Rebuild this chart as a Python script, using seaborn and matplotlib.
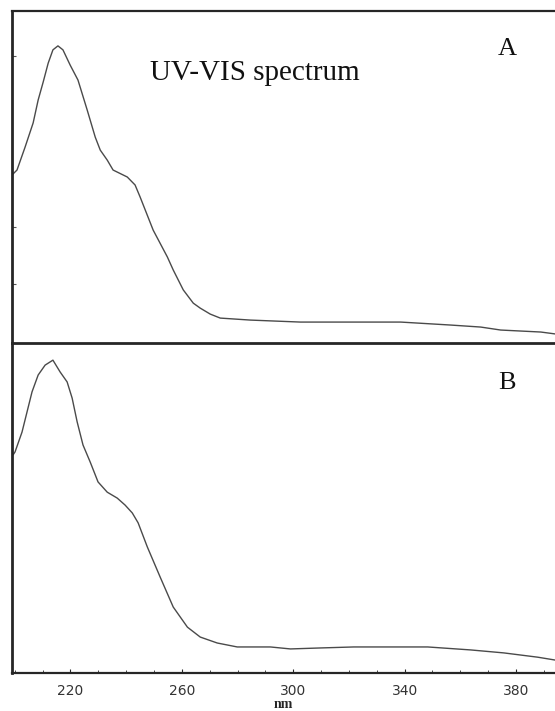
import numpy as np
import pandas as pd
import seaborn as sns
from matplotlib import pyplot as plt
from matplotlib.ticker import MultipleLocator

# spectrum A (top panel)
wl_a = [199.0, 200.8, 203.7, 206.6, 208.4, 210.2, 212.0, 213.7, 215.5, 217.3,
        219.9, 222.7, 226.0, 228.9, 230.7, 233.2, 235.3, 240.4, 243.2, 245.0,
        249.7, 254.8, 256.9, 260.5, 264.1, 266.6, 270.2, 273.8, 284.6, 302.6,
        320.6, 338.6, 356.6, 367.3, 374.5, 388.9, 394.3]
abs_a = [0.506, 0.521, 0.590, 0.663, 0.732, 0.786, 0.843, 0.883, 0.895, 0.883,
         0.837, 0.792, 0.702, 0.620, 0.581, 0.551, 0.521, 0.500, 0.476, 0.440,
         0.340, 0.259, 0.220, 0.160, 0.120, 0.105, 0.087, 0.075, 0.069, 0.063,
         0.063, 0.063, 0.054, 0.048, 0.039, 0.033, 0.027]

# spectrum B (bottom panel)
wl_b = [199.4, 200.1, 202.6, 204.4, 206.2, 208.4, 210.9, 213.7, 216.3, 218.8,
        220.6, 222.4, 224.5, 227.1, 229.9, 233.2, 236.8, 239.6, 242.2, 244.3,
        247.6, 252.2, 256.9, 262.0, 266.6, 272.7, 279.9, 291.8, 299.0, 309.8,
        321.7, 348.3, 363.7, 375.6, 387.8, 394.3]
abs_b = [0.661, 0.670, 0.730, 0.791, 0.852, 0.903, 0.933, 0.948, 0.912, 0.882,
         0.833, 0.761, 0.691, 0.639, 0.579, 0.548, 0.530, 0.509, 0.485, 0.455,
         0.382, 0.291, 0.200, 0.139, 0.109, 0.091, 0.079, 0.079, 0.073, 0.076,
         0.079, 0.079, 0.070, 0.061, 0.048, 0.039]

xticks = [220, 260, 300, 340, 380]
yticks_a = [0.178, 0.350, 0.864]

sns.set_style('ticks')

fig = plt.figure(figsize=(5.55, 7.11), dpi=100)
ax_a = fig.add_axes([0.0216, 0.5176, 0.9784, 0.4669])
ax_b = fig.add_axes([0.0216, 0.0534, 0.9784, 0.4642], sharex=ax_a)
# keep the lower panel from painting over the shared divider line
ax_b.patch.set_visible(False)

df_a = pd.DataFrame({'nm': wl_a, 'abs': abs_a})
df_b = pd.DataFrame({'nm': wl_b, 'abs': abs_b})
sns.lineplot(data=df_a, x='nm', y='abs', ax=ax_a, color='#4a4a4a', lw=1.0)
sns.lineplot(data=df_b, x='nm', y='abs', ax=ax_b, color='#4a4a4a', lw=1.0)

for ax in (ax_a, ax_b):
    ax.set_xlim(199, 394)
    ax.set_ylim(0, 1.0)
    ax.set_xlabel('')
    ax.set_ylabel('')
    ax.spines['right'].set_visible(False)
    ax.spines['left'].set_linewidth(2.0)
    ax.spines['bottom'].set_linewidth(1.6)
    ax.spines['top'].set_linewidth(1.6)

ax_b.spines['top'].set_visible(False)
ax_a.spines['bottom'].set_linewidth(2.0)

# top panel: small inward ticks on the left, no labels
ax_a.set_yticks(yticks_a)
ax_a.tick_params(axis='y', direction='in', length=3, width=0.8, labelleft=False,
                 color='#555555')

ax_b.set_yticks([])
ax_b.set_xticks(xticks)
ax_b.xaxis.set_minor_locator(MultipleLocator(10))
ax_b.tick_params(axis='x', which='major', direction='in', length=3, width=0.8,
                 labelsize=10, pad=8, labelcolor='#333333')
ax_b.tick_params(axis='x', which='minor', direction='in', length=2, width=0.6)
for lab in ax_b.get_xticklabels():
    lab.set_family('DejaVu Sans')
# no x ticks on the upper panel (major or minor)
ax_a.tick_params(axis='x', which='both', bottom=False, top=False,
                 labelbottom=False)

ax_b.set_xlabel('nm', family='Liberation Serif', fontsize=10, fontweight='bold',
                labelpad=0)

serif = 'Liberation Serif'
ax_a.text(0.254, 0.813, 'UV-VIS spectrum', transform=ax_a.transAxes,
          family=serif, fontsize=21, va='center', ha='left', color='#111111')
ax_a.text(0.895, 0.886, 'A', transform=ax_a.transAxes, family=serif,
          fontsize=19, va='center', ha='left', color='#111111')
ax_b.text(0.895, 0.879, 'B', transform=ax_b.transAxes, family=serif,
          fontsize=19, va='center', ha='left', color='#111111')

plt.savefig('out.png', dpi=100)
